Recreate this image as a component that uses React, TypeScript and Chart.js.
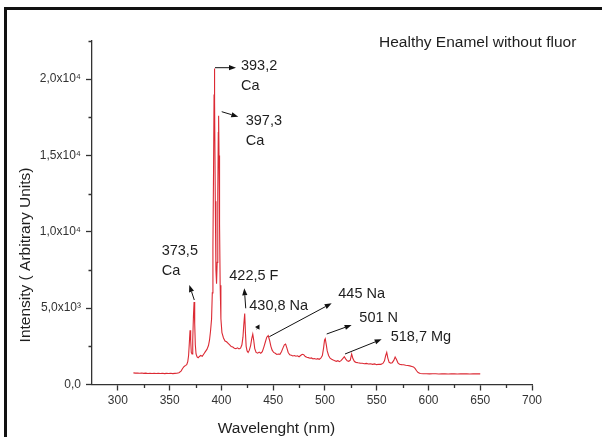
import { useEffect, useRef } from 'react';
import { Chart, registerables } from 'chart.js';

Chart.register(...registerables);

// ---- data ----
const WAVELENGTHS = [
  315, 317, 319, 321, 323, 325, 327, 329, 331, 333, 335, 337, 339, 341, 343, 345, 347, 349, 351, 353, 355, 357, 359,
  361, 362.5, 364, 365.5, 366.5, 367.5, 368.3, 369, 369.7, 370.3, 370.9, 371.6, 372.3, 373, 373.6, 374.2, 374.8, 375.5,
  376.5, 377.5, 378.5, 380, 381.5, 383, 384.5, 386, 387.5, 388.5, 389.5, 390.5, 391.2, 391.8, 392.4, 392.9, 393.2, 393.6,
  394.1, 394.7, 395.3, 395.9, 396.5, 397.0, 397.3, 397.7, 398.2, 398.8, 399.5, 400.5, 402, 403.5, 405, 406.5, 408, 409.5,
  411, 412.5, 414, 415.5, 417, 418.5, 419.8, 420.8, 421.6, 422.5, 423.2, 423.9, 424.8, 425.8, 427, 428.2, 429.3, 430.3,
  431.2, 432.2, 433.5, 435, 436.5, 438, 439.5, 441, 442.5, 443.8, 445.2, 446.5, 447.8, 449, 450.5, 452, 453.5, 455, 456.5,
  458, 459.5, 460.8, 462, 463.2, 464.5, 466, 467.5, 469, 470.5, 472, 473.5, 475, 476.5, 478, 479.5, 481, 482.5, 484, 485.5,
  487, 488.5, 490, 491.5, 493, 494.5, 496, 497.5, 498.7, 499.6, 500.3, 501.2, 502.2, 503.5, 505, 506.5, 508, 509.5, 511,
  512.5, 514, 515.5, 517, 518.7, 520, 521.5, 523, 524.5, 525.8, 527, 528.5, 530, 532, 534, 536, 538, 540, 542, 544, 546,
  548, 550, 552, 554, 556, 557.5, 558.7, 559.7, 560.7, 562, 563.5, 565, 566.5, 567.8, 569, 570.5, 572, 574, 576, 578, 580,
  582, 584, 585.5, 587, 588.5, 590, 592, 595, 598, 601, 604, 607, 610, 613, 616, 619, 622, 625, 628, 631, 634, 637, 640,
  643, 646, 649, 650,
];

const INTENSITY = [
  760, 745, 755, 735, 748, 728, 742, 725, 738, 722, 735, 718, 732, 724, 738, 715, 728, 720, 735, 712, 728, 740, 770,
  880, 1050, 1180, 1250, 1300, 1500, 1900, 2700, 3550, 2900, 2100, 2000, 2900, 4500, 5400, 4000, 2600, 2000,
  1800, 1750, 1820, 1900, 1850, 2000, 2150, 2300, 2550, 2900, 3500, 4300, 6000, 9000, 14000, 19000, 20700, 18500,
  12000, 7500, 6600, 8000, 12500, 16500, 17600, 15000, 10500, 6500, 4300, 3400, 3050, 2850, 2800, 2700, 2600, 2480,
  2450, 2380, 2350, 2400, 2330, 2380, 2600, 3100, 3900, 4650, 3400, 2500, 2200, 2100, 2250, 2550, 3000, 3300,
  2900, 2350, 2100, 2050, 2120, 2050, 2150, 2450, 2800, 3100, 3200, 2900, 2500, 2250, 2100, 2050, 1970, 2000, 1980,
  2150, 2400, 2600, 2650, 2400, 2100, 1950, 1920, 1870, 1900, 1850, 1880, 1820, 1900, 1980, 1950, 1830, 1780, 1760, 1720,
  1740, 1680, 1700, 1660, 1690, 1650, 1720, 1900, 2400, 2900, 3000, 2650, 2200, 1900, 1720, 1650, 1600, 1560, 1520,
  1560, 1500, 1560, 1680, 1820, 1680, 1550, 1520, 1600, 2000, 1700, 1500, 1450, 1420, 1400, 1390, 1360, 1380, 1340, 1360,
  1320, 1350, 1300, 1330, 1320, 1380, 1550, 1900, 2100, 1750, 1450, 1400, 1430, 1580, 1800, 1650, 1420, 1330, 1300, 1290,
  1260, 1240, 1220, 1180, 1150, 1050, 900, 780, 720, 700, 705, 695, 708, 700, 690, 705, 698, 692, 703, 696, 688, 700, 694,
  702, 690, 698, 693, 700, 695,
];

const X_TICKS = [300, 350, 400, 450, 500, 550, 600, 650, 700];
const X_MINOR_TICKS = [325, 375, 425, 475, 525, 575, 625, 675];
const Y_TICKS = [0, 5000, 10000, 15000, 20000];
const Y_TICK_LABELS = ['0,0', '5,0x10³', '1,0x10⁴', '1,5x10⁴', '2,0x10⁴'];
const Y_MINOR_TICKS = [2500, 7500, 12500, 17500, 22500];

const CHART_TITLE = 'Healthy Enamel without fluor';
const X_TITLE = 'Wavelenght (nm)';
const Y_TITLE = 'Intensity ( Arbitrary Units)';

// peak annotations (text and data-space anchors)
const PEAK_LABELS = [['393,2', 'Ca'], ['397,3', 'Ca'], ['373,5', 'Ca'], ['422,5 F'], ['430,8 Na'], ['445 Na'], ['501 N'], ['518,7 Mg']];
const LABEL_NM = [418.9, 423.5, 342.3, 407.6, 426.9, 512.9, 533.2, 563.5];
const LABEL_INT = [20928, 17325, 8810, 7173, 5207, 6013, 4402, 3177];
const ARROW_FROM_NM = [393.8, 400.3, 373.8, 423.5, 434.1, 446.3, 501.7, 519.4];
const ARROW_FROM_INT = [20751, 17869, 5535, 4991, 3616, 3131, 3308, 1998];
const ARROW_TO_NM = [414.1, 416.3, 369.0, 422.1, 436.8, 506.5, 525.8, 554.8];
const ARROW_TO_INT = [20751, 17541, 6517, 6301, 3930, 5319, 3897, 2961];

const FONT = "'Liberation Sans', Arial, Helvetica, sans-serif";
const AXIS_COLOR = '#333333';
const TEXT_COLOR = '#1e1e1e';

const decorPlugin = {
  id: 'decor',
  afterDraw(chart: any) {
    const ctx = chart.ctx as CanvasRenderingContext2D;
    const xs = chart.scales.x;
    const ys = chart.scales.y;
    const ca = chart.chartArea;
    ctx.save();

    // frame (top + left edge)
    ctx.fillStyle = '#111111';
    ctx.fillRect(4, 7, chart.width - 4, 3);
    ctx.fillRect(4, 7, 3, chart.height - 7);

    // minor ticks
    ctx.strokeStyle = AXIS_COLOR;
    ctx.lineWidth = 1.3;
    ctx.beginPath();
    X_MINOR_TICKS.forEach((v) => {
      const px = Math.round(xs.getPixelForValue(v)) + 0.5;
      ctx.moveTo(px, ca.bottom);
      ctx.lineTo(px, ca.bottom + 3.5);
    });
    Y_MINOR_TICKS.forEach((v) => {
      const py = Math.round(ys.getPixelForValue(v)) + 0.5;
      ctx.moveTo(ca.left, py);
      ctx.lineTo(ca.left - 3.5, py);
    });
    ctx.stroke();

    // arrows
    ctx.strokeStyle = '#111111';
    ctx.fillStyle = '#111111';
    ctx.lineWidth = 1;
    for (let i = 0; i < PEAK_LABELS.length; i++) {
      const x1 = xs.getPixelForValue(ARROW_FROM_NM[i]);
      const y1 = ys.getPixelForValue(ARROW_FROM_INT[i]);
      const x2 = xs.getPixelForValue(ARROW_TO_NM[i]);
      const y2 = ys.getPixelForValue(ARROW_TO_INT[i]);
      const ang = Math.atan2(y2 - y1, x2 - x1);
      const len = Math.hypot(x2 - x1, y2 - y1);
      const head = Math.min(7, len * 0.8);
      const bx = x2 - head * Math.cos(ang);
      const by = y2 - head * Math.sin(ang);
      ctx.beginPath();
      ctx.moveTo(x1, y1);
      ctx.lineTo(bx, by);
      ctx.stroke();
      const w = 2.6;
      ctx.beginPath();
      ctx.moveTo(x2, y2);
      ctx.lineTo(bx + w * Math.sin(ang), by - w * Math.cos(ang));
      ctx.lineTo(bx - w * Math.sin(ang), by + w * Math.cos(ang));
      ctx.closePath();
      ctx.fill();
    }

    // peak labels
    ctx.fillStyle = TEXT_COLOR;
    ctx.font = `14.5px ${FONT}`;
    ctx.textAlign = 'left';
    ctx.textBaseline = 'alphabetic';
    for (let i = 0; i < PEAK_LABELS.length; i++) {
      const lx = xs.getPixelForValue(LABEL_NM[i]);
      const ly = ys.getPixelForValue(LABEL_INT[i]);
      PEAK_LABELS[i].forEach((line, j) => {
        ctx.fillText(line, lx, ly + 5.2 + j * 19.5);
      });
    }

    // chart title (inside plot, top right)
    ctx.font = `15.5px ${FONT}`;
    ctx.fillText(CHART_TITLE, ca.right - 153, ca.top + 5.7);

    // axis titles
    ctx.textAlign = 'center';
    ctx.fillText(X_TITLE, ca.left + 184.5, ca.bottom + 48.5);
    ctx.save();
    ctx.translate(ca.left - 62.5, ca.top + 214);
    ctx.rotate(-Math.PI / 2);
    ctx.fillText(Y_TITLE, 0, 0);
    ctx.restore();

    ctx.restore();
  },
};

export default function App() {
  const ref = useRef<HTMLCanvasElement | null>(null);

  useEffect(() => {
    document.body.style.margin = '0';
    const canvas = ref.current;
    if (!canvas) return;
    const points = WAVELENGTHS.map((x, i) => ({ x, y: INTENSITY[i] }));
    const chart = new Chart(canvas, {
      type: 'line',
      data: {
        datasets: [
          {
            data: points,
            borderColor: '#dc2a34',
            borderWidth: 1.1,
            pointRadius: 0,
            tension: 0,
            fill: false,
          },
        ],
      },
      options: {
        animation: false,
        responsive: false,
        maintainAspectRatio: false,
        events: [],
        layout: { padding: { left: 0, right: 70, top: 41, bottom: 0 } },
        plugins: {
          legend: { display: false },
          tooltip: { enabled: false },
          title: { display: false },
        },
        scales: {
          x: {
            type: 'linear',
            min: 275,
            max: 700,
            afterBuildTicks: (s: any) => {
              s.ticks = X_TICKS.map((v) => ({ value: v }));
            },
            afterFit: (s: any) => {
              s.height = 52.5;
            },
            grid: {
              drawOnChartArea: false,
              drawTicks: true,
              tickLength: 6,
              tickColor: AXIS_COLOR,
              tickWidth: 1.3,
            },
            border: { display: true, color: AXIS_COLOR, width: 1.3 },
            ticks: {
              color: AXIS_COLOR,
              font: { family: FONT, size: 12 },
              padding: 3,
              maxRotation: 0,
              autoSkip: false,
              callback: (v: any) => String(v),
            },
          },
          y: {
            type: 'linear',
            min: 0,
            max: 22500,
            afterBuildTicks: (s: any) => {
              s.ticks = Y_TICKS.map((v) => ({ value: v }));
            },
            afterFit: (s: any) => {
              s.width = 92;
            },
            grid: {
              drawOnChartArea: false,
              drawTicks: true,
              tickLength: 6,
              tickColor: AXIS_COLOR,
              tickWidth: 1.3,
            },
            border: { display: true, color: AXIS_COLOR, width: 1.3 },
            ticks: {
              color: AXIS_COLOR,
              font: { family: FONT, size: 12 },
              padding: 5,
              autoSkip: false,
              callback: (v: any) => {
                const i = Y_TICKS.indexOf(Number(v));
                return i >= 0 ? Y_TICK_LABELS[i] : '';
              },
            },
          },
        },
      },
      plugins: [decorPlugin],
    });
    return () => chart.destroy();
  }, []);

  return (
    <div style={{ width: 602, height: 437, background: '#ffffff' }}>
      <canvas ref={ref} width={602} height={437} style={{ width: 602, height: 437, display: 'block' }} />
    </div>
  );
}
